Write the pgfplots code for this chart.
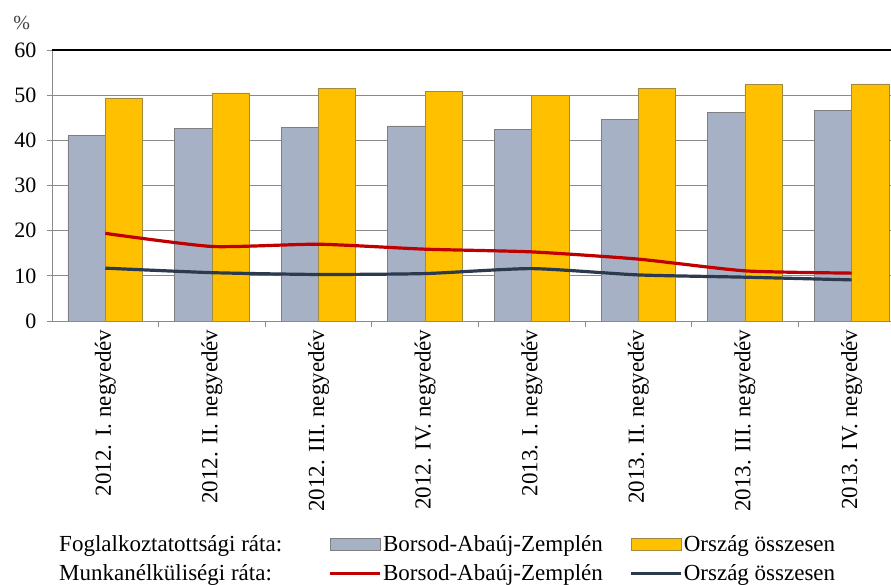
\documentclass[border=0pt]{standalone}
\usepackage{fontspec}
\setmainfont{Liberation Serif}
\usepackage{pgfplots}
\pgfplotsset{compat=1.18}
\definecolor{bgrey}{HTML}{A7B1C5}
\definecolor{bgreyedge}{HTML}{7F7F7F}
\definecolor{byel}{HTML}{FFC000}
\definecolor{byeledge}{HTML}{A08A40}
\definecolor{bred}{HTML}{C00000}
\definecolor{bdark}{HTML}{2C3A4E}
\definecolor{gridc}{HTML}{8A8A8A}
\pgfplotsset{
  barleg/.style={legend image code/.code={\draw[##1] (0pt,-6pt) rectangle (50pt,6pt);}},
  lineleg/.style={legend image code/.code={\draw[##1] (0pt,0pt) -- (50pt,0pt);}},
}
\begin{document}
\begin{tikzpicture}
\useasboundingbox (0,0) rectangle (891pt,585pt);
\begin{axis}[
  at={(52pt,264pt)}, anchor=south west,
  scale only axis, width=839pt, height=271pt,
  xmin=-0.5, xmax=7.37, ymin=0, ymax=60,
  axis x line*=bottom, axis y line*=left,
  axis line style={gridc, line width=0.8pt, -},
  ytick={0,10,...,50},
  extra y ticks={60},
  extra y tick style={grid=major, major grid style={black, line width=1.3pt}},
  ymajorgrids, grid style={gridc, line width=0.8pt},
  xtick={0,...,7},
  xticklabels={2012. I. negyedév, 2012. II. negyedév, 2012. III. negyedév, 2012. IV. negyedév, 2013. I. negyedév, 2013. II. negyedév, 2013. III. negyedév, 2013. IV. negyedév},
  xticklabel style={rotate=90, anchor=east, font=\fontsize{23}{25}\selectfont},
  yticklabel style={font=\fontsize{22}{24}\selectfont, xshift=-7pt},
  /pgf/number format/assume math mode=true,
  tick align=outside,
  major tick length=5pt, minor tick length=6pt,
  major x tick style={draw=none},
  tick style={gridc, line width=0.8pt},
  minor xtick={0.5,1.5,...,6.5},
  ylabel={\%},
  ylabel style={rotate=-90, at={(axis description cs:-0.036,1.10)}, anchor=center, font=\fontsize{20}{22}\selectfont, text=black!75},
  legend columns=3,
  legend cell align=left,
  legend style={at={(axis description cs:0.003,-0.775)}, anchor=north west,
    draw=none, fill=none, font=\fontsize{23}{25}\selectfont,
    nodes={inner xsep=1.5pt, inner ysep=2pt},
    row sep=8pt,
    /tikz/column 2/.style={column sep=45pt},
    /tikz/column 4/.style={column sep=25pt}},
]
\addplot[forget plot, ybar, bar width=0.35, bar shift=-0.175, fill=bgrey, draw=bgreyedge, line width=0.7pt]
  coordinates {(0,41.0) (1,42.7) (2,42.9) (3,43.2) (4,42.4) (5,44.6) (6,46.1) (7,46.6)};
\addplot[forget plot, ybar, bar width=0.35, bar shift=0.175, fill=byel, draw=byeledge, line width=0.7pt]
  coordinates {(0,49.4) (1,50.5) (2,51.4) (3,50.8) (4,49.9) (5,51.4) (6,52.3) (7,52.5)};
\addplot[forget plot, bred, line width=3.2pt, smooth, tension=0.35, no markers]
  coordinates {(0,19.4) (1,16.5) (2,17.0) (3,15.9) (4,15.3) (5,13.7) (6,11.1) (7,10.6)};
\addplot[forget plot, bdark, line width=3.2pt, smooth, tension=0.35, no markers]
  coordinates {(0,11.7) (1,10.7) (2,10.3) (3,10.5) (4,11.6) (5,10.2) (6,9.7) (7,9.1)};
\addlegendimage{empty legend}
\addlegendentry{Foglalkoztatottsági ráta:}
\addlegendimage{barleg, fill=bgrey, draw=bgreyedge, line width=0.7pt}
\addlegendentry{Borsod-Abaúj-Zemplén}
\addlegendimage{barleg, fill=byel, draw=byeledge, line width=0.7pt}
\addlegendentry{Ország összesen}
\addlegendimage{empty legend}
\addlegendentry{Munkanélküliségi ráta:}
\addlegendimage{lineleg, bred, line width=3pt}
\addlegendentry{Borsod-Abaúj-Zemplén}
\addlegendimage{lineleg, bdark, line width=3pt}
\addlegendentry{Ország összesen}
\end{axis}
\end{tikzpicture}
\end{document}
